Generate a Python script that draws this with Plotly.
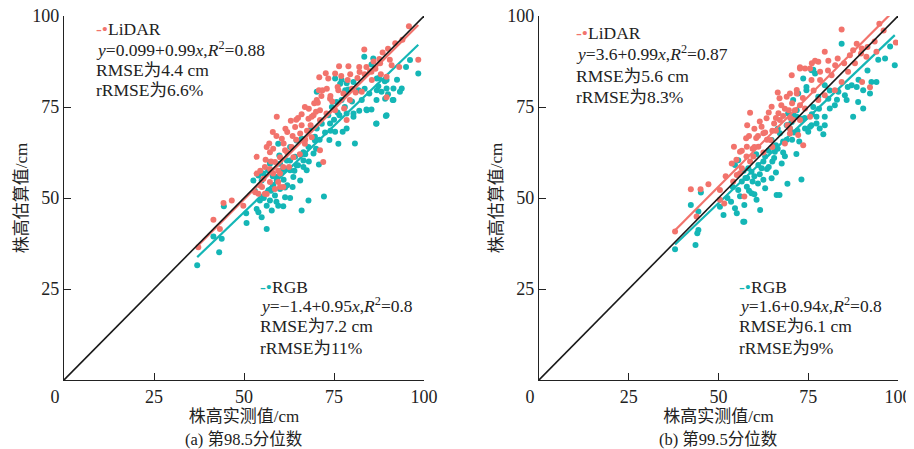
import plotly.graph_objects as go

# ---------------- data ----------------
# Panel (a) 98.5th percentile
a_lidar_x = [44.3, 46.6, 41.5, 43.3, 37.3, 49.8, 53.5, 54.4, 55.8, 54.0, 57.2, 58.6, 59.5, 60.9, 58.1, 60.0,
             55.8, 58.6, 61.4, 57.2, 58.0, 59.1, 63.0, 66.0, 66.9, 70.2, 70.8, 73.4, 75.3, 71.1, 72.0, 53.1,
             53.5, 56.3, 58.1, 60.5, 62.0, 64.2, 65.6, 67.9, 69.3, 71.1, 63.2, 60.0, 55.4, 57.2, 60.9, 63.7,
             66.9, 68.8, 56.3, 60.0, 95.8, 98.4, 83.4, 93.1, 87.6, 76.4, 72.7, 78.8, 82.1, 85.5, 89.6, 79.0,
             71.8, 70.5, 70.0, 68.8, 73.9, 76.2, 77.6, 82.0, 85.4, 87.8, 91.0, 89.6, 82.7, 79.4, 77.8, 75.3,
             72.9, 71.1, 78.5, 70.9, 57.5, 62.0, 64.5, 67.5, 61.0, 65.0, 68.0, 74.0, 76.0, 80.0, 81.5, 84.0,
             86.0, 88.5, 90.0, 92.0, 94.0, 85.0, 54.5, 56.0, 57.0, 59.0, 61.5, 63.5, 64.5, 66.0, 68.5, 69.5,
             71.5, 73.0, 74.5, 77.0, 79.5, 81.0, 83.5, 86.5, 88.0, 90.5, 62.5, 65.5, 67.0, 59.5, 55.0]
a_lidar_y = [48.6, 49.3, 44.0, 41.5, 36.5, 47.9, 61.3, 53.5, 51.2, 51.2, 54.4, 52.5, 54.4, 53.0, 56.7, 56.7,
             58.5, 59.9, 63.1, 62.6, 68.1, 72.3, 71.2, 70.0, 75.0, 76.9, 79.6, 82.8, 84.2, 63.1, 59.9, 51.6,
             56.7, 64.0, 63.5, 66.3, 68.1, 69.5, 67.7, 71.8, 72.7, 74.1, 64.0, 61.2, 55.3, 58.0, 58.5, 61.2,
             64.9, 66.7, 51.1, 53.0, 97.2, 88.0, 90.8, 86.0, 88.2, 86.2, 84.3, 82.4, 84.6, 82.4, 77.7, 86.2,
             79.6, 76.2, 73.7, 72.3, 77.3, 79.6, 78.7, 86.0, 84.7, 87.0, 86.5, 83.3, 79.2, 76.9, 74.6, 74.1,
             73.2, 71.4, 71.4, 83.2, 60.0, 62.5, 66.0, 68.5, 65.0, 72.0, 74.5, 78.0, 80.5, 80.0, 83.0, 86.0,
             87.5, 90.0, 91.0, 92.5, 93.5, 84.8, 57.5, 60.5, 65.0, 67.0, 69.0, 67.0, 71.5, 73.0, 70.0, 76.0,
             78.0, 80.0, 76.5, 83.5, 84.0, 79.0, 84.0, 85.5, 84.0, 88.0, 58.5, 62.0, 66.0, 57.5, 53.0]

a_rgb_x = [37.0, 43.1, 41.5, 43.8, 50.7, 56.3, 50.6, 54.0, 54.9, 53.5, 56.3, 57.7, 54.4, 57.2, 59.5, 60.9,
           58.6, 61.4, 62.8, 66.0, 67.9, 56.8, 58.1, 60.0, 61.4, 55.4, 54.0, 54.9, 59.1, 56.7, 60.5, 62.8,
           64.6, 63.7, 65.6, 61.9, 64.2, 66.5, 67.4, 60.0, 57.2, 44.4, 72.2, 70.8, 52.6, 57.2, 59.5, 59.8,
           62.8, 64.6, 66.0, 66.5, 67.9, 69.3, 69.7, 68.3, 70.2, 71.6, 73.4, 74.4, 75.7, 76.7, 78.1, 76.2,
           78.5, 80.4, 84.1, 86.7, 89.6, 91.5, 98.4, 93.8, 89.6, 86.9, 85.9, 86.9, 89.1, 81.8, 62.8, 61.4,
           59.1, 83.4, 85.4, 87.3, 89.6, 91.5, 93.3, 91.3, 89.2, 86.8, 88.2, 84.8, 85.4, 84.0, 86.8, 89.4,
           78.5, 77.1, 75.3, 80.4, 79.0, 77.1, 78.5, 76.5, 80.4, 73.9, 69.7, 75.3, 77.4, 73.7, 80.8, 70.2,
           82.7, 96.1, 55.5, 57.5, 59.0, 61.0, 62.0, 63.5, 64.0, 65.0, 66.5, 68.0, 67.0, 70.0, 71.0, 72.5,
           74.0, 75.0, 76.0, 78.0, 80.0, 82.0, 83.5, 87.5, 90.0, 92.5, 95.0, 53.0, 58.0]
a_rgb_y = [31.5, 35.1, 39.4, 38.8, 43.1, 41.5, 45.8, 46.1, 44.7, 47.0, 47.9, 46.6, 49.3, 49.3, 47.9, 47.7,
           50.7, 50.2, 50.0, 46.6, 49.3, 52.1, 53.5, 52.5, 52.9, 56.7, 56.2, 54.8, 55.8, 57.6, 57.6, 57.6,
           59.0, 55.8, 54.8, 60.3, 61.3, 60.3, 57.6, 59.4, 59.9, 47.7, 50.4, 59.2, 54.8, 59.4, 64.9, 61.7,
           64.0, 65.8, 66.3, 62.6, 64.0, 62.2, 65.8, 68.6, 69.1, 70.4, 72.7, 75.0, 76.4, 81.4, 79.6, 64.9,
           69.1, 72.3, 74.1, 70.4, 72.7, 76.9, 84.2, 80.1, 80.1, 79.6, 88.3, 82.8, 82.1, 79.6, 60.3, 58.0,
           54.8, 88.8, 86.7, 80.7, 82.4, 80.1, 79.2, 76.9, 77.3, 76.9, 79.2, 78.7, 74.3, 74.3, 70.5, 72.5,
           81.5, 82.4, 82.8, 81.9, 79.8, 76.9, 73.2, 72.7, 73.2, 70.5, 66.8, 68.2, 68.2, 65.9, 65.0, 79.2,
           76.9, 87.9, 50.0, 52.0, 49.0, 55.0, 53.5, 53.0, 57.5, 59.0, 58.5, 60.0, 62.0, 63.5, 66.0, 68.0,
           68.5, 71.5, 73.5, 75.0, 76.5, 74.0, 80.0, 83.0, 78.5, 82.5, 86.0, 52.0, 56.0]

# Panel (b) 99.5th percentile
b_lidar_x = [94.8, 84.3, 88.5, 87.5, 86.6, 89.7, 91.2, 94.0, 89.9, 79.6, 83.2, 80.6, 77.8, 76.9, 75.5, 72.7,
             74.1, 70.4, 71.8, 69.9, 69.0, 72.7, 75.9, 78.3, 81.5, 84.3, 86.1, 90.0, 82.4, 79.6, 77.8, 74.1,
             71.3, 69.6, 72.7, 70.8, 69.2, 75.5, 72.2, 69.9, 73.6, 99.4, 92.2, 37.9, 43.9, 42.3, 47.2, 50.4,
             51.6, 54.1, 55.1, 56.5, 53.7, 57.8, 56.0, 58.8, 57.2, 45.0, 50.4, 54.3, 57.7, 58.8, 62.0, 63.4,
             64.8, 67.0, 66.7, 64.5, 62.5, 59.7, 57.9, 71.8, 76.0, 72.7, 78.3, 68.5, 69.9, 67.1, 61.1, 56.0,
             60.5, 63.0, 65.5, 61.5, 66.0, 68.0, 59.5, 62.5, 65.0, 60.0, 58.0, 67.5, 70.5, 64.0, 66.5, 55.0,
             56.5, 58.5, 60.0, 61.0, 63.5, 65.0, 66.0, 68.5, 70.0, 73.5, 76.5, 80.5, 82.5, 85.0, 88.0, 91.5,
             93.5, 96.0, 52.0]
b_lidar_y = [97.9, 96.3, 92.4, 90.6, 89.2, 89.7, 88.8, 90.2, 91.1, 90.2, 88.3, 87.7, 87.4, 87.7, 85.6, 85.9,
             85.6, 83.7, 78.7, 78.7, 77.8, 75.5, 82.4, 82.4, 83.7, 81.9, 84.7, 81.9, 79.6, 78.2, 76.9, 74.6,
             74.1, 74.1, 71.4, 71.4, 70.0, 72.3, 67.3, 67.7, 64.5, 92.7, 80.4, 40.8, 44.9, 52.4, 53.8, 52.2,
             48.5, 54.5, 56.3, 58.2, 59.5, 61.4, 62.7, 60.0, 50.4, 52.4, 49.5, 64.1, 66.4, 73.4, 69.6, 71.9,
             75.1, 77.4, 73.3, 65.9, 67.8, 61.4, 64.1, 79.7, 87.0, 85.6, 84.7, 65.0, 69.1, 71.4, 64.1, 56.8,
             66.5, 68.0, 70.5, 71.0, 68.5, 72.5, 63.5, 62.5, 64.0, 69.0, 70.0, 75.5, 76.0, 73.5, 79.0, 60.5,
             63.0, 67.0, 64.0, 67.0, 66.0, 68.5, 72.0, 74.5, 72.0, 77.5, 79.5, 85.0, 86.5, 87.0, 87.0, 91.5,
             93.0, 96.0, 56.0]

b_rgb_x = [84.3, 99.1, 96.4, 92.6, 94.0, 92.2, 90.3, 88.5, 87.1, 88.9, 90.3, 87.5, 85.2, 85.7, 83.4, 80.6,
           82.4, 81.0, 79.6, 77.3, 79.6, 77.3, 78.2, 75.9, 75.5, 79.2, 76.4, 77.8, 79.6, 76.9, 75.9, 73.6,
           74.5, 74.5, 72.2, 70.8, 71.8, 73.1, 70.4, 71.8, 69.4, 69.0, 69.9, 74.1, 75.0, 37.9, 43.6, 45.1,
           42.3, 44.4, 44.4, 51.4, 50.4, 54.6, 55.1, 57.2, 57.2, 61.6, 60.6, 63.0, 59.2, 57.9, 55.5, 56.5,
           66.2, 54.6, 59.2, 62.0, 64.8, 67.6, 63.0, 71.7, 73.1, 69.2, 44.1, 56.9, 67.0, 55.5, 58.3, 61.1,
           65.7, 64.8, 67.1, 69.5, 70.9, 76.4, 97.8, 58.0, 60.0, 62.5, 64.0, 66.0, 63.5, 61.0, 65.0, 68.0,
           66.5, 60.5, 57.0, 52.5, 54.0, 66.0, 68.5, 70.5, 72.0, 53.5, 56.0, 58.5, 59.5, 61.5, 62.5, 64.0,
           65.5, 66.5, 68.0, 69.0, 71.0, 72.5, 74.0, 76.0, 78.0, 81.0, 83.0, 86.0, 89.0, 91.5, 94.5, 60.0,
           57.5]
b_rgb_y = [92.4, 86.5, 88.3, 81.9, 81.9, 78.7, 79.6, 80.5, 81.0, 76.4, 74.6, 72.3, 78.2, 76.9, 79.2, 77.3,
           75.5, 74.6, 72.3, 72.3, 70.0, 70.5, 69.1, 70.0, 69.6, 67.5, 75.0, 77.8, 81.0, 84.2, 85.1, 82.8,
           79.6, 80.5, 78.7, 76.9, 74.1, 71.8, 70.9, 72.3, 73.2, 70.0, 69.1, 69.1, 68.2, 35.9, 37.1, 51.5,
           48.1, 46.3, 41.2, 45.3, 47.6, 47.2, 45.8, 43.5, 48.1, 46.7, 49.5, 52.7, 51.3, 53.1, 52.2, 54.5,
           50.8, 59.1, 57.2, 58.2, 55.4, 59.5, 61.4, 62.1, 55.1, 53.9, 40.3, 43.5, 50.8, 60.4, 58.2, 59.1,
           62.7, 65.9, 67.8, 70.1, 72.8, 85.2, 91.6, 55.5, 56.0, 60.0, 63.0, 64.5, 58.0, 54.0, 60.0, 65.5,
           69.0, 62.0, 57.5, 50.0, 53.0, 57.0, 61.5, 66.0, 68.5, 49.0, 50.5, 52.0, 54.5, 56.5, 55.0, 58.5,
           61.0, 63.5, 62.5, 66.0, 68.0, 65.5, 72.0, 73.0, 74.5, 79.5, 77.0, 80.5, 82.5, 85.0, 88.0, 51.0,
           55.5]

# regression fits as reported: [intercept, slope]
fit_a_lidar = [0.099, 0.99]
fit_a_rgb = [-1.4, 0.95]
fit_b_lidar = [3.6, 0.99]
fit_b_rgb = [1.6, 0.94]

tick_vals_x = [0, 25, 50, 75, 100]
tick_text_x = ["0\u2003", "25", "50", "75", "100"]
tick_vals_y = [25, 50, 75, 100]

RED = "#F2736C"
TEAL = "#14B6B6"
FONT = "'Liberation Serif', 'Times New Roman', 'Noto Sans CJK SC', serif"
INK = "#222222"

# page body has an 8px default margin: figure is sized so the plot sits where the reference has it
W, H = 906, 441

panels = [
    dict(xa="x", ya="y", lx=a_lidar_x, ly=a_lidar_y, rx=a_rgb_x, ry=a_rgb_y,
         fl=fit_a_lidar, fr=fit_a_rgb),
    dict(xa="x2", ya="y2", lx=b_lidar_x, ly=b_lidar_y, rx=b_rgb_x, ry=b_rgb_y,
         fl=fit_b_lidar, fr=fit_b_rgb),
]

fig = go.Figure()
for p in panels:
    for xs, ys, fit, col in [(p["rx"], p["ry"], p["fr"], TEAL), (p["lx"], p["ly"], p["fl"], RED)]:
        fig.add_trace(go.Scatter(x=xs, y=ys, mode="markers", xaxis=p["xa"], yaxis=p["ya"],
                                 marker=dict(color=col, size=6, line=dict(width=0)), showlegend=False))
        x0, x1 = min(xs), max(xs)
        fig.add_trace(go.Scatter(x=[x0, x1], y=[fit[0] + fit[1] * x0, fit[0] + fit[1] * x1],
                                 mode="lines", xaxis=p["xa"], yaxis=p["ya"],
                                 line=dict(color=col, width=2.2), showlegend=False, hoverinfo="skip"))
    # 1:1 line on top
    fig.add_trace(go.Scatter(x=[0, 100], y=[0, 100], mode="lines", xaxis=p["xa"], yaxis=p["ya"],
                             line=dict(color="#1a1a1a", width=1.6), showlegend=False, hoverinfo="skip"))

axis_common = dict(range=[0, 100], showline=True, linecolor=INK, linewidth=1.3, ticks="inside",
                   ticklen=7, tickwidth=1.3, tickcolor=INK, showgrid=False, zeroline=False,
                   automargin=False, ticklabeloverflow="allow",
                   tickfont=dict(family=FONT, size=18, color=INK))
xt = dict(text="株高实测值/cm", font=dict(family=FONT, size=17, color=INK), standoff=4)
yt = dict(text="株高估算值/cm", font=dict(family=FONT, size=17, color=INK), standoff=0)

fig.update_layout(
    width=W, height=H,
    margin=dict(l=56, r=16, t=8, b=69, autoexpand=False),
    plot_bgcolor="white", paper_bgcolor="white",
    font=dict(family=FONT, color=INK),
    xaxis=dict(domain=[0, 0.4317], tickvals=tick_vals_x, ticktext=tick_text_x, title=xt, anchor="y", **axis_common),
    yaxis=dict(domain=[0, 1], tickvals=tick_vals_y, title=yt, anchor="x", **axis_common),
    xaxis2=dict(domain=[0.5695, 1], tickvals=tick_vals_x, ticktext=tick_text_x, title=xt, anchor="y2", **axis_common),
    yaxis2=dict(domain=[0, 1], tickvals=tick_vals_y, title=yt, anchor="x2", **axis_common),
    showlegend=False,
)

def stat_lines(name, col, fit, r2, rmse, rrmse):
    sign = "−" if fit[0] < 0 else ""
    return [
        f"<span style='color:{col}'>-•</span>{name}",
        f"<i>y</i>={sign}{abs(fit[0]):g}+{fit[1]:g}<i>x</i>,<i>R</i><sup>2</sup>={r2}",
        f"RMSE为{rmse} cm",
        f"rRMSE为{rrmse}%",
    ]

blocks = [
    ("x", "y", 8.3, [96.4, 90.9, 85.1, 79.6], stat_lines("LiDAR", RED, fit_a_lidar, "0.88", "4.4", "6.6")),
    ("x", "y", 53.8, [25.6, 20.5, 14.9, 8.9], stat_lines("RGB", TEAL, fit_a_rgb, "0.8", "7.2", "11")),
    ("x2", "y2", 9.8, [95.2, 89.8, 83.6, 77.7], stat_lines("LiDAR", RED, fit_b_lidar, "0.87", "5.6", "8.3")),
    ("x2", "y2", 55.1, [25.6, 20.6, 14.7, 8.8], stat_lines("RGB", TEAL, fit_b_rgb, "0.8", "6.1", "9")),
]
for xr, yr, ax, ys, lines in blocks:
    for yy, txt in zip(ys, lines):
        fig.add_annotation(xref=xr, yref=yr, x=ax, y=yy, text=txt, showarrow=False, xanchor="left",
                           yanchor="middle", align="left", font=dict(family=FONT, size=17.5, color=INK))

for cx, cap in [(0.4317 / 2, "(a) 第98.5分位数"), ((0.5695 + 1) / 2, "(b) 第99.5分位数")]:
    fig.add_annotation(xref="paper", yref="paper", x=cx, y=-0.132, text=cap, showarrow=False,
                       xanchor="center", yanchor="top", font=dict(family=FONT, size=16.5, color=INK))

fig.write_html("out.html")
